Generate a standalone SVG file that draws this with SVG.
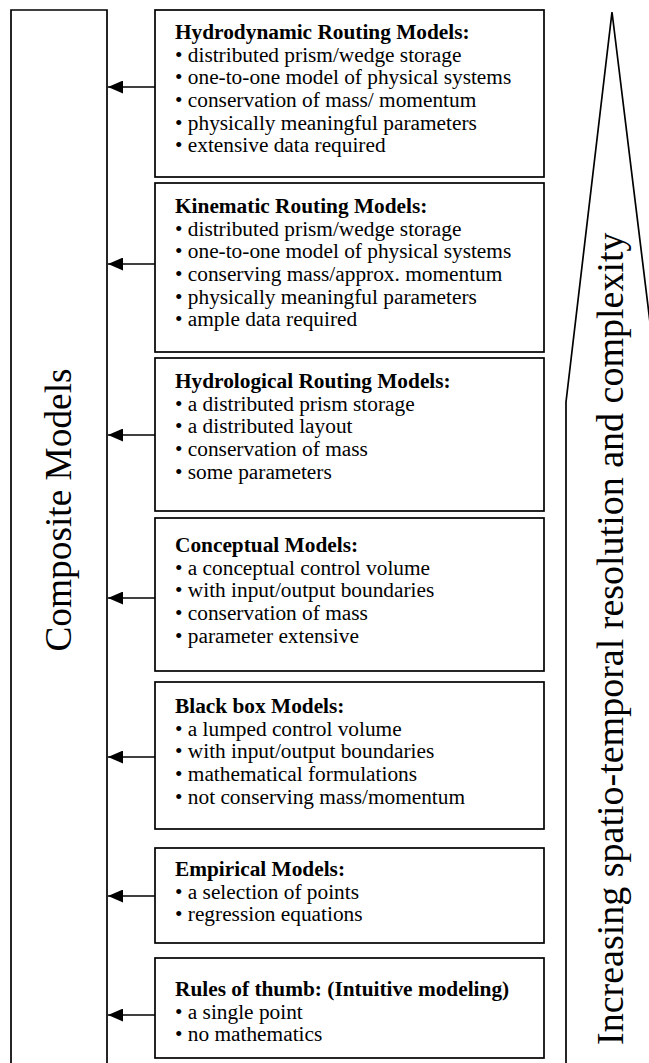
<svg xmlns="http://www.w3.org/2000/svg" width="649" height="1063" viewBox="0 0 649 1063">
<style>
.box{fill:#fff;stroke:#000;stroke-width:1.7}
.frame{fill:none;stroke:#000;stroke-width:1.7}
.t{font-family:"Liberation Serif","Times New Roman",serif;font-size:21.33px;fill:#000}
.b{font-weight:bold}
.big{font-family:"Liberation Serif","Times New Roman",serif;font-size:37.33px;fill:#000}
.big2{font-family:"Liberation Serif","Times New Roman",serif;font-size:38px;fill:#000}
.conn{stroke:#000;stroke-width:1.7;fill:none}
</style>
<defs>
<marker id="ah" markerWidth="15" markerHeight="13" refX="15" refY="6.5" orient="auto" markerUnits="userSpaceOnUse" viewBox="0 0 15 13">
<path d="M0,0 L15,6.5 L0,13 Z" fill="#000"/>
</marker>
</defs>
<rect width="649" height="1063" fill="#fff"/>
<g id="composite">
<path class="frame" d="M11,1063 V10 H107 V1063"/>
<text class="big" transform="translate(71,510) rotate(-90)" text-anchor="middle">Composite Models</text>
</g>
<g id="scale">
<path class="frame" d="M566,1063 V402 L612,12 L660,404"/>
<text class="big2" transform="translate(623,1045) rotate(-90)">Increasing spatio-temporal resolution and complexity</text>
</g>
<g id="hydrodynamic">
<rect class="box" x="155" y="10" width="389" height="167"/>
<text class="t" x="175" y="39"><tspan class="b">Hydrodynamic Routing Models:</tspan><tspan x="175" dy="22.67">• distributed prism/wedge storage</tspan><tspan x="175" dy="22.67">• one-to-one model of physical systems</tspan><tspan x="175" dy="22.67">• conservation of mass/ momentum</tspan><tspan x="175" dy="22.67">• physically meaningful parameters</tspan><tspan x="175" dy="22.67">• extensive data required</tspan></text>
</g>
<g id="kinematic">
<rect class="box" x="155" y="183" width="389" height="169"/>
<text class="t" x="175" y="213"><tspan class="b">Kinematic Routing Models:</tspan><tspan x="175" dy="22.67">• distributed prism/wedge storage</tspan><tspan x="175" dy="22.67">• one-to-one model of physical systems</tspan><tspan x="175" dy="22.67">• conserving mass/approx. momentum</tspan><tspan x="175" dy="22.67">• physically meaningful parameters</tspan><tspan x="175" dy="22.67">• ample data required</tspan></text>
</g>
<g id="hydrological">
<rect class="box" x="155" y="358" width="389" height="153"/>
<text class="t" x="175" y="388"><tspan class="b">Hydrological Routing Models:</tspan><tspan x="175" dy="22.67">• a distributed prism storage</tspan><tspan x="175" dy="22.67">• a distributed layout</tspan><tspan x="175" dy="22.67">• conservation of mass</tspan><tspan x="175" dy="22.67">• some parameters</tspan></text>
</g>
<g id="conceptual">
<rect class="box" x="155" y="518" width="389" height="153"/>
<text class="t" x="175" y="552"><tspan class="b">Conceptual Models:</tspan><tspan x="175" dy="22.67">• a conceptual control volume</tspan><tspan x="175" dy="22.67">• with input/output boundaries</tspan><tspan x="175" dy="22.67">• conservation of mass</tspan><tspan x="175" dy="22.67">• parameter extensive</tspan></text>
</g>
<g id="blackbox">
<rect class="box" x="155" y="682" width="389" height="147"/>
<text class="t" x="175" y="713"><tspan class="b">Black box Models:</tspan><tspan x="175" dy="22.67">• a lumped control volume</tspan><tspan x="175" dy="22.67">• with input/output boundaries</tspan><tspan x="175" dy="22.67">• mathematical formulations</tspan><tspan x="175" dy="22.67">• not conserving mass/momentum</tspan></text>
</g>
<g id="empirical">
<rect class="box" x="155" y="848" width="389" height="95"/>
<text class="t" x="175" y="876"><tspan class="b">Empirical Models:</tspan><tspan x="175" dy="22.67">• a selection of points</tspan><tspan x="175" dy="22.67">• regression equations</tspan></text>
</g>
<g id="rules">
<rect class="box" x="155" y="958" width="389" height="100"/>
<text class="t" x="175" y="996"><tspan class="b">Rules of thumb: (Intuitive modeling)</tspan><tspan x="175" dy="22.67">• a single point</tspan><tspan x="175" dy="22.67">• no mathematics</tspan></text>
</g>
<g id="connectors">
<line class="conn" x1="155" y1="87" x2="108" y2="87" marker-end="url(#ah)"/>
<line class="conn" x1="155" y1="264" x2="108" y2="264" marker-end="url(#ah)"/>
<line class="conn" x1="155" y1="435" x2="108" y2="435" marker-end="url(#ah)"/>
<line class="conn" x1="155" y1="598" x2="108" y2="598" marker-end="url(#ah)"/>
<line class="conn" x1="155" y1="757" x2="108" y2="757" marker-end="url(#ah)"/>
<line class="conn" x1="155" y1="896" x2="108" y2="896" marker-end="url(#ah)"/>
<line class="conn" x1="155" y1="1015" x2="108" y2="1015" marker-end="url(#ah)"/>
</g>
</svg>
